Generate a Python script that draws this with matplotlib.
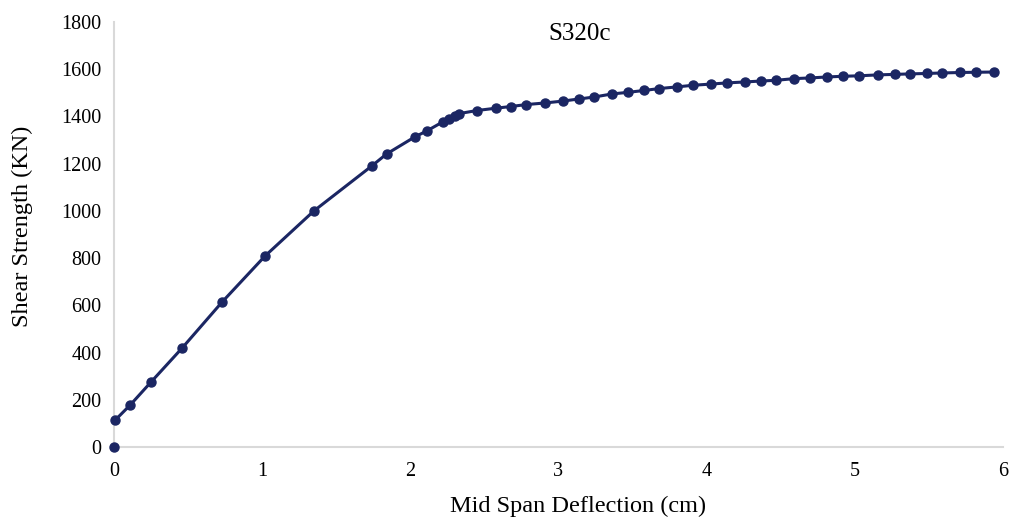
import matplotlib.pyplot as plt

plt.rcParams['font.family'] = ['Liberation Serif', 'DejaVu Serif']

# load-deflection readings for specimen S320c
deflection = [0, 0.01, 0.11, 0.25, 0.46, 0.73, 1.02, 1.35, 1.74, 1.84,
              2.03, 2.11, 2.22, 2.26, 2.30, 2.33, 2.45, 2.58, 2.68, 2.78,
              2.91, 3.03, 3.14, 3.24, 3.36, 3.47, 3.58, 3.68, 3.80, 3.91,
              4.03, 4.14, 4.26, 4.37, 4.47, 4.59, 4.70, 4.81, 4.92, 5.03,
              5.16, 5.27, 5.37, 5.49, 5.59, 5.71, 5.82, 5.94]
shear = [0, 115, 178, 275, 419, 614, 809, 1000, 1190, 1241,
         1313, 1338, 1377, 1390, 1400, 1412, 1425, 1435, 1442, 1450,
         1457, 1465, 1474, 1482, 1495, 1502, 1510, 1518, 1525, 1532,
         1537, 1542, 1546, 1550, 1553, 1560, 1563, 1567, 1570, 1572,
         1576, 1578, 1580, 1582, 1584, 1586, 1587, 1588]

xticks = [0, 1, 2, 3, 4, 5, 6]
yticks = [0, 200, 400, 600, 800, 1000, 1200, 1400, 1600, 1800]

navy = '#1b2663'

fig = plt.figure(figsize=(10.12, 5.23), dpi=100)
ax = fig.add_axes([0.1126, 0.1453, 0.8784, 0.8127])

# first reading stands alone, the rest are joined
ax.plot(deflection[1:], shear[1:], color=navy, linewidth=2.2, clip_on=False,
        zorder=3)
ax.plot(deflection, shear, linestyle='none', marker='o', markersize=6.5,
        color=navy, clip_on=False, zorder=4)

ax.set_xlim(0, 6)
ax.set_ylim(0, 1800)
ax.set_xticks(xticks)
ax.set_yticks(yticks)
ax.tick_params(length=0, labelsize=14.5, colors='black')
ax.tick_params(axis='x', pad=11)
ax.tick_params(axis='y', pad=9)

for side in ('top', 'right'):
    ax.spines[side].set_visible(False)
for side in ('left', 'bottom'):
    ax.spines[side].set_color('#d9d9d9')
    ax.spines[side].set_linewidth(1.5)

fig.text(0.571, 0.031, 'Mid Span Deflection (cm)', fontsize=17.5,
         ha='center', va='center')
fig.text(0.022, 0.568, 'Shear Strength (KN)', fontsize=17.5,
         ha='center', va='center', rotation=90)
fig.text(0.573, 0.935, 'S320c', fontsize=18, ha='center', va='center')

fig.savefig('out.png', dpi=100, facecolor='white')
